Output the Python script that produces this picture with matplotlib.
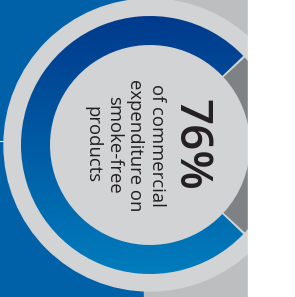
import numpy as np
import matplotlib
matplotlib.use("Agg")
import matplotlib.pyplot as plt
from matplotlib.patches import Wedge, Circle, Rectangle
from matplotlib.colors import to_rgb

# data
shares = [76, 24]                      # smoke-free vs rest (%)
label_lines = ["of commercial", "expenditure on", "smoke-free", "products"]

plt.rcParams["font.family"] = ["Open Sans", "DejaVu Sans"]

W, H = 295, 297
fig = plt.figure(figsize=(W / 100, H / 100), dpi=100)
ax = fig.add_axes([0, 0, 1, 1])
ax.set_xlim(0, W)
ax.set_ylim(H, 0)
ax.set_aspect("auto")
ax.axis("off")

cx, cy = 150, 145
r_bg, r_out, r_in = 146, 129, 100

# backgrounds
ax.add_patch(Rectangle((0, 0), 144, H, color="#0061a8", zorder=0))
ax.add_patch(Rectangle((144, 0), 104, H, color="#bcbec0", zorder=0))
ax.plot([0, 4], [141, 141], color="#e8eef5", lw=0.8, zorder=1)
ax.add_patch(Circle((cx, cy), r_bg, color="#d1d3d4", zorder=1))

# donut: share[0] in blue gradient, rest in grey, centred on the right side
half = 360 * shares[1] / 100 / 2
gap = 0.5
grey = Wedge((cx, cy), r_out, -half + gap, half - gap, width=r_out - r_in,
             facecolor="#7f8284", edgecolor="none", zorder=2)
ax.add_patch(grey)

blue = Wedge((cx, cy), r_out, half + gap, 360 - half - gap, width=r_out - r_in,
             facecolor="none", edgecolor="none", zorder=2)
ax.add_patch(blue)
top_c, bot_c = np.array(to_rgb("#003a8c")), np.array(to_rgb("#007cbc"))
t = np.linspace(0, 1, 256)[:, None, None]
grad = top_c * (1 - t) + bot_c * t
im = ax.imshow(grad, extent=(cx - r_out, cx + r_out, cy + r_out, cy - r_out),
               aspect="auto", zorder=2, interpolation="bilinear")
im.set_clip_path(blue)

# texts (rotated, reading downwards)
ax.text(178, cy, f"{shares[0]}%", rotation=270, rotation_mode="anchor",
        ha="center", va="baseline", fontsize=33, fontweight=600,
        color="#231f20", zorder=3)
for i, line in enumerate(label_lines):
    ax.text(152 - 21.5 * i, cy, line, rotation=270, rotation_mode="anchor",
            ha="center", va="baseline", fontsize=13.3, color="#231f20", zorder=3)

# white strip on the right
ax.add_patch(Rectangle((248, 0), W - 248, H, color="white", zorder=5))

ax.set_xlim(0, W)
ax.set_ylim(H, 0)
fig.savefig("out.png", dpi=100)
